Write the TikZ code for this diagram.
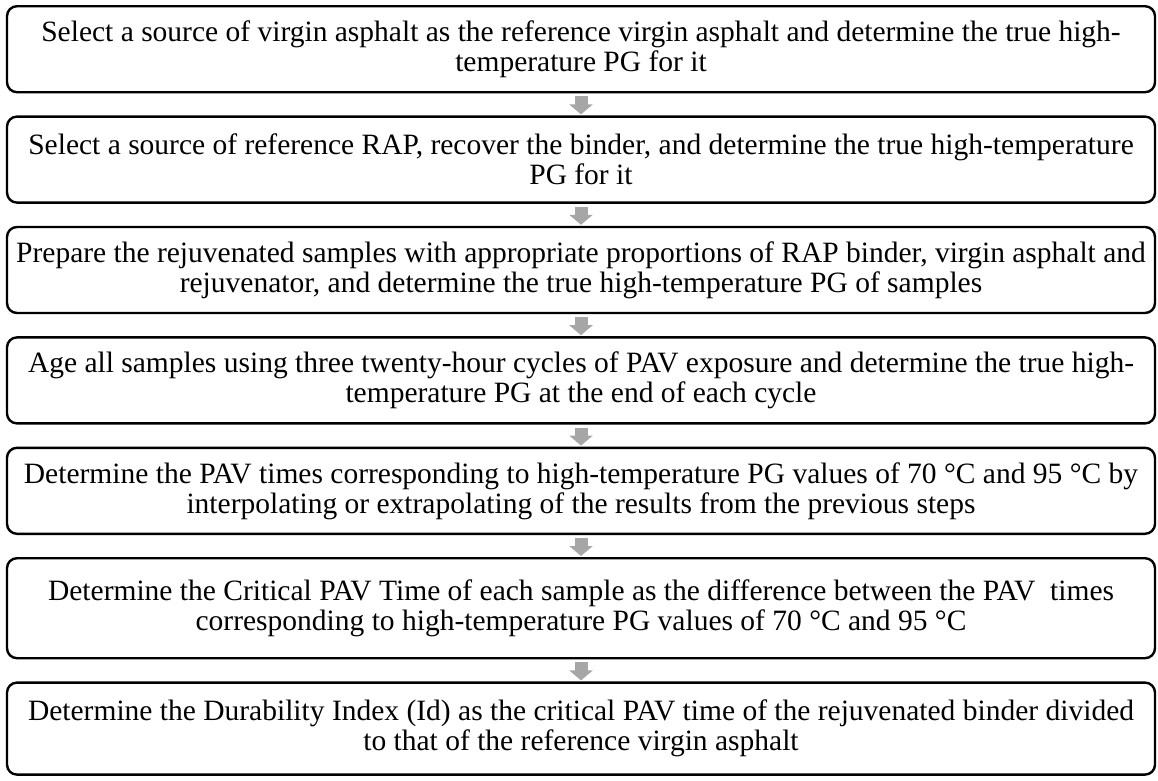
\documentclass[tikz,border=0pt]{standalone}
\usepackage{fontspec}
\setmainfont{Liberation Serif}
\usepackage{xcolor}
\usetikzlibrary{arrows.meta, positioning}

\definecolor{arrowgrey}{HTML}{A6A6A6}

\begin{document}
\begin{tikzpicture}[
  x=1pt, y=1pt,
  node distance=22pt,
  stepbox/.style={draw, rounded corners=10pt, line width=2.4pt,
    minimum width=1148pt, minimum height=86pt, inner xsep=2pt,
    align=center, font=\fontsize{29.5}{30}\selectfont},
  flow/.style={draw=arrowgrey, line width=13pt,
    -{Triangle[width=23pt, length=10pt]},
    shorten <=3pt, shorten >=1pt}
]
\useasboundingbox (0,0) rectangle (1158,-780);

\node[stepbox, anchor=north] (ref) at (581,-5)
  {Select a source of virgin asphalt as the reference virgin asphalt and determine the true high-\\temperature PG for it};
\node[stepbox, below=of ref] (rap)
  {Select a source of reference RAP, recover the binder, and determine the true high-temperature\\PG for it};
\node[stepbox, below=of rap] (prep)
  {Prepare the rejuvenated samples with appropriate proportions of RAP binder, virgin asphalt and\\rejuvenator, and determine the true high-temperature PG of samples};
\node[stepbox, below=of prep] (age)
  {Age all samples using three twenty-hour cycles of PAV exposure and determine the true high-\\temperature PG at the end of each cycle};
\node[stepbox, below=of age] (times)
  {Determine the PAV times corresponding to high-temperature PG values of 70 °C and 95 °C by\\interpolating or extrapolating of the results from the previous steps};
\node[stepbox, below=of times, minimum height=100pt] (crit)
  {Determine the Critical PAV Time of each sample as the difference between the PAV\ \ times\\corresponding to high-temperature PG values of 70 °C and 95 °C};
\node[stepbox, below=of crit, minimum height=92pt] (index)
  {Determine the Durability Index (Id) as the critical PAV time of the rejuvenated binder divided\\to that of the reference virgin asphalt};

% grey block arrows between the steps
\draw[flow] (ref) -- (rap);
\draw[flow] (rap) -- (prep);
\draw[flow] (prep) -- (age);
\draw[flow] (age) -- (times);
\draw[flow] (times) -- (crit);
\draw[flow] (crit) -- (index);
\end{tikzpicture}
\end{document}
